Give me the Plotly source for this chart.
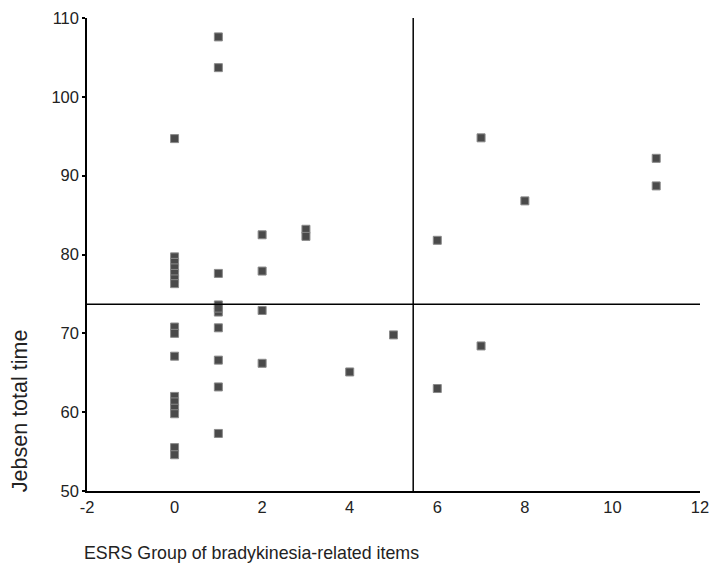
import plotly.graph_objects as go

# ESRS group score (x) and Jebsen total time (y)
esrs = [0, 0, 0, 0, 0, 0, 0, 0, 0, 0, 0, 0, 0, 0, 0, 0,
        1, 1, 1, 1, 1, 1, 1, 1, 1, 1,
        2, 2, 2, 2,
        3, 3,
        4, 5,
        6, 6, 7, 7, 8, 11, 11]
jebsen = [94.7, 79.7, 79.0, 78.3, 77.6, 76.9, 76.3, 70.8, 70.0, 67.1, 62.0, 61.3, 60.5, 59.8, 55.5, 54.6,
          107.6, 103.7, 77.6, 73.6, 72.7, 70.7, 66.6, 63.2, 57.3, 73.2,
          82.5, 77.9, 72.9, 66.2,
          83.2, 82.3,
          65.1, 69.8,
          81.8, 63.0, 94.8, 68.4, 86.8, 92.2, 88.7]

cut_x = 5.45
cut_y = 73.7
x_range = [-2, 12]
y_range = [50, 110]
x_ticks = [-2, 0, 2, 4, 6, 8, 10, 12]
x_tick_text = ["-2", "0", "2", "4", "6", "8", "10", "12"]
y_ticks = [50, 60, 70, 80, 90, 100, 110]

fig = go.Figure()
fig.add_trace(go.Scatter(
    x=esrs, y=jebsen, mode="markers",
    marker=dict(symbol="square", size=8, color="#4a4a4a",
                line=dict(color="#8a8a8a", width=1)),
    showlegend=False, cliponaxis=False))

fig.add_shape(type="line", xref="x", yref="y", x0=cut_x, x1=cut_x,
              y0=y_range[0], y1=y_range[1], line=dict(color="black", width=1.5))
fig.add_shape(type="line", xref="x", yref="y", x0=x_range[0], x1=x_range[1],
              y0=cut_y, y1=cut_y, line=dict(color="black", width=1.5))

fig.update_xaxes(range=x_range, tickvals=x_ticks, ticktext=x_tick_text,
                 showgrid=False, zeroline=False, ticklabeloverflow="allow", automargin=False,
                 showline=True, linecolor="black", linewidth=1.5, ticks="",
                 tickfont=dict(size=16.5, color="#222"))
fig.update_yaxes(range=y_range, tickvals=y_ticks, showgrid=False, zeroline=False, automargin=False,
                 showline=True, linecolor="black", linewidth=1.5, ticks="outside",
                 ticklen=3, tickwidth=2, tickcolor="black",
                 tickfont=dict(size=16.5, color="#222"))

fig.add_annotation(text="ESRS Group of bradykinesia-related items", xref="paper", yref="paper",
                   x=-0.008, y=0, xanchor="left", yanchor="middle", yshift=-62,
                   showarrow=False, font=dict(size=17.8, color="#222"))
fig.add_annotation(text="Jebsen total time", xref="paper", yref="paper",
                   x=-0.11, y=0.17, xanchor="center", yanchor="middle", textangle=-90,
                   showarrow=False, font=dict(size=21.5, color="#222"))

fig.update_layout(width=712, height=577, margin=dict(l=87, r=12, t=18, b=86),
                  plot_bgcolor="white", paper_bgcolor="white",
                  font=dict(family="Liberation Sans, Arial, sans-serif"))

fig.write_html("out.html")
